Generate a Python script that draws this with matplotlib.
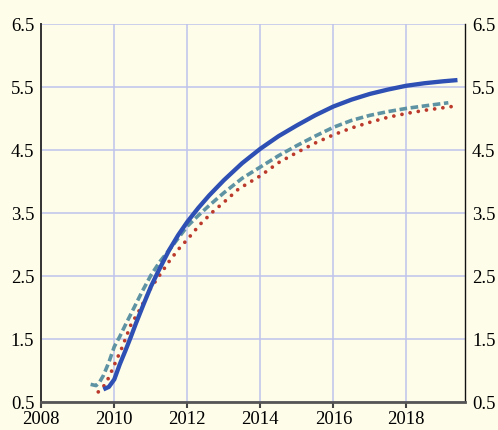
import matplotlib
matplotlib.use('Agg')
import matplotlib.pyplot as plt

# solid blue series
blue_x = [2009.70, 2009.85, 2010.0, 2010.15, 2010.3, 2010.45, 2010.6, 2010.8, 2011.0, 2011.2,
          2011.5, 2011.75, 2012.0, 2012.3, 2012.6, 2013.0, 2013.5, 2014.0, 2014.5, 2015.0,
          2015.5, 2016.0, 2016.5, 2017.0, 2017.5, 2018.0, 2018.5, 2019.0, 2019.4]
blue_y = [0.70, 0.74, 0.86, 1.10, 1.31, 1.53, 1.76, 2.05, 2.33, 2.57,
          2.91, 3.15, 3.36, 3.58, 3.78, 4.02, 4.29, 4.52, 4.72, 4.89,
          5.05, 5.19, 5.30, 5.39, 5.46, 5.52, 5.56, 5.59, 5.61]

# dashed teal series
teal_x = [2009.35, 2009.5, 2009.6, 2009.7, 2009.85, 2010.0, 2010.15, 2010.3, 2010.5, 2010.75,
          2011.0, 2011.25, 2011.5, 2011.75, 2012.0, 2012.3, 2012.6, 2013.0, 2013.5, 2014.0,
          2014.5, 2015.0, 2015.5, 2016.0, 2016.5, 2017.0, 2017.5, 2018.0, 2018.5, 2019.15]
teal_y = [0.78, 0.76, 0.82, 0.92, 1.13, 1.38, 1.54, 1.72, 1.95, 2.24,
          2.51, 2.73, 2.91, 3.10, 3.29, 3.46, 3.62, 3.82, 4.05, 4.23,
          4.41, 4.57, 4.72, 4.86, 4.97, 5.05, 5.11, 5.16, 5.20, 5.25]

# dotted red series
red_x = [2009.56, 2009.72, 2009.85, 2010.0, 2010.2, 2010.45, 2010.7, 2011.0, 2011.25, 2011.5,
         2011.75, 2012.0, 2012.35, 2012.7, 2013.0, 2013.4, 2014.0, 2014.5, 2015.0, 2015.5,
         2016.0, 2016.5, 2017.0, 2017.5, 2018.0, 2018.5, 2019.25]
red_y = [0.66, 0.76, 0.89, 1.09, 1.35, 1.72, 1.97, 2.31, 2.52, 2.73,
         2.92, 3.08, 3.32, 3.52, 3.67, 3.88, 4.09, 4.30, 4.46, 4.61,
         4.74, 4.85, 4.94, 5.02, 5.08, 5.13, 5.19]

x_ticks = [2008, 2010, 2012, 2014, 2016, 2018]
y_ticks = [0.5, 1.5, 2.5, 3.5, 4.5, 5.5, 6.5]

bg = '#fefdea'
plt.rcParams['font.family'] = ['Liberation Serif', 'DejaVu Serif']

fig = plt.figure(figsize=(4.98, 4.31), dpi=100, facecolor=bg)
ax = fig.add_axes([0.083, 0.065, 0.851, 0.877], facecolor=bg)

ax.plot(teal_x, teal_y, color='#5e93a3', lw=2.6, ls=(0, (2.1, 1.0)), dash_capstyle='butt', zorder=3)
ax.plot(red_x, red_y, color='#bb3a2c', lw=2.7, ls=(0, (0.01, 2.2)), dash_capstyle='round', zorder=4)
ax.plot(blue_x, blue_y, color='#2e4fb3', lw=3.1, solid_capstyle='butt', zorder=5)

ax.set_xlim(2008, 2019.61)
ax.set_ylim(0.5, 6.5)
ax.set_xticks(x_ticks)
ax.set_yticks(y_ticks)
ax.set_xticklabels([str(t) for t in x_ticks])
ax.set_yticklabels(['%.1f' % t for t in y_ticks])

ax.grid(True, color='#bfc3ea', lw=1.1, zorder=0)
ax.set_axisbelow(True)

ax.spines['top'].set_visible(False)
ax.spines['left'].set_color('#333333')
ax.spines['left'].set_linewidth(1.4)
ax.spines['bottom'].set_color('#555555')
ax.spines['bottom'].set_linewidth(2)
ax.spines['right'].set_color('#111111')
ax.spines['right'].set_linewidth(1)

ax.tick_params(axis='x', direction='out', length=4, width=1.5, color='#444444',
               labelsize=13.5, pad=2)
ax.tick_params(axis='y', length=0, labelsize=13.5, pad=5, labelright=True, right=False)

fig.savefig('out.png', dpi=100, facecolor=bg)
